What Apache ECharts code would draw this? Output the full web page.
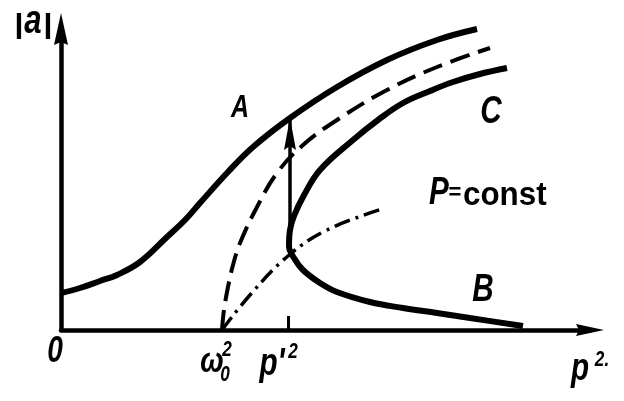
<!DOCTYPE html>
<html><head><meta charset="utf-8">
<script src="https://cdn.jsdelivr.net/npm/echarts@6/dist/echarts.min.js"></script>
<style>html,body{margin:0;padding:0;background:#fff}#c{width:624px;height:401px}</style>
</head><body><div id="c"></div>
<script>
// Values (arbitrary units: x ~ p^2, y ~ |a|)
const curveA = [[0,37],[19,42],[39,49],[56,55],[79,68],[106,93],[124,110],[139,127],[166,157],[192,183],[229,212],[276,243],[326,270],[376,290],[416,301]];
const dashedCurve = [[161,0],[163,20],[167,43],[172,65],[179,87],[196,123],[216,157],[242,185],[276,210],[326,240],[376,263],[429,282]];
const dashDotCurve = [[161,0],[189,35],[227,74],[266,100],[321,121]];
const curveCB = [[462,4],[409,12],[376,17],[342,22],[309,28],[276,38],[259,47],[242,60],[233,72],[228,84],[229,100],[233,114],[242,133],[259,160],[292,190],[317,210],[342,227],[369,239],[392,248],[419,256],[446,262]];
const jumpArrow = [[229,77],[229,212]];
const xTickValues = [0, 160, 227];
const xTickMain = ['0', 'ω', "p'"];
const xTickSub = ['', '0', ''];
const xTickSup = ['', '2', '2'];
const xAxisMax = 529, yAxisMax = 301;
const xAxisName = 'p', xAxisNameSup = '2.';
const yAxisName = ['|', 'a', '|'];
const curveLabels = ['A', 'B', 'C'];
const noteText = ['P', '=', 'const'];

const BLACK = '#000';
const FAM = '"Liberation Sans", sans-serif';
const ARROW_X = 'path://M6,0 L12,28 L6,25 L0,28 Z';
const ARROW_Y = 'path://M7,0 L14,32 L7,29 L0,32 Z';
const chart = echarts.init(document.getElementById('c'), null, {renderer: 'canvas'});
const option = {
  animation: false,
  backgroundColor: '#fff',
  grid: {left: 61, right: 34, top: 29, bottom: 71},
  xAxis: {
    type: 'value', min: 0, max: xAxisMax,
    axisLine: {show: true, onZero: false, symbol: ['none', ARROW_X], symbolSize: [12, 28], lineStyle: {color: BLACK, width: 4.5}},
    axisTick: {show: true, customValues: [xTickValues[2]], inside: true, length: 14, lineStyle: {color: BLACK, width: 3}},
    axisLabel: {show: false}, splitLine: {show: false}
  },
  yAxis: {
    type: 'value', min: 0, max: yAxisMax,
    axisLine: {show: true, onZero: false, symbol: ['none', ARROW_Y], symbolSize: [14, 32], lineStyle: {color: BLACK, width: 4.5}},
    axisTick: {show: false}, axisLabel: {show: false}, splitLine: {show: false}
  },
  series: [
    {type: 'line', data: curveA, smooth: 0.4, symbol: 'none', lineStyle: {color: BLACK, width: 6}},
    {type: 'line', data: dashedCurve, smooth: 0.4, symbol: 'none', lineStyle: {color: BLACK, width: 4, type: [20, 9]}},
    {type: 'line', data: dashDotCurve, smooth: 0.4, symbol: 'none', lineStyle: {color: BLACK, width: 3.5, type: [16, 6, 3, 6]}},
    {type: 'line', data: curveCB, smooth: 0.4, symbol: 'none', lineStyle: {color: BLACK, width: 6}},
    {type: 'line', showSymbol: true, showAllSymbol: true, symbolKeepAspect: false,
     data: [{value: jumpArrow[0], symbol: 'none'}, {value: jumpArrow[1], symbol: 'path://M6,0 L12,32 L6,28 L0,32 Z', symbolSize: [12, 32], symbolOffset: [0, 16]}],
     lineStyle: {color: BLACK, width: 3.5}, itemStyle: {color: BLACK}}
  ]
};
chart.setOption(option);

const P = (x, y) => chart.convertToPixel({gridIndex: 0}, [x, y]);
const g = [];
function txt(s, x, y, size, opt, sx) {
  g.push({type: 'text', x: x, y: y, silent: true, z: 10, scaleX: sx == null ? 0.78 : sx,
    style: Object.assign({text: s, fill: BLACK, fontSize: size, fontFamily: FAM, fontWeight: 'bold', fontStyle: 'italic', align: 'center', verticalAlign: 'middle'}, opt || {})});
}
const base = P(0, 0)[1];
// x tick labels
const offs = [[-6, 22], [-9, 32], [-16, 35]];
xTickValues.forEach((v, i) => {
  const x = P(v, 0)[0];
  txt(xTickMain[i], x + offs[i][0], base + offs[i][1], i === 2 ? 38 : 36);
  if (xTickSub[i]) txt(xTickSub[i], x + 4, base + 45, 22);
  if (xTickSup[i]) txt(xTickSup[i], x + (i === 1 ? 6 : 5), base + (i === 1 ? 20 : 22), 22);
});
const xEnd = P(xAxisMax, 0)[0];
txt(xAxisName, xEnd - 10, base + 40, 38);
txt(xAxisNameSup, xEnd + 12, base + 30, 22);
// y axis name |a|
const yX = P(0, yAxisMax)[0];
txt(yAxisName[0], yX - 42, 25, 28, {fontStyle: 'normal'}, 1.2);
txt(yAxisName[1], yX - 28, 22, 40);
txt(yAxisName[2], yX - 13, 25, 28, {fontStyle: 'normal'}, 1.2);
// curve labels
txt(curveLabels[0], 240, 108, 32);
txt(curveLabels[1], 483, 291, 38);
txt(curveLabels[2], 491, 113, 38);
txt(noteText[0], 439, 194, 38);
txt(noteText[1], 455, 193, 22, {fontStyle: 'normal'}, 1);
txt(noteText[2], 463, 196, 33, {fontStyle: 'normal', align: 'left'}, 0.95);
chart.setOption({graphic: g});
</script></body></html>
